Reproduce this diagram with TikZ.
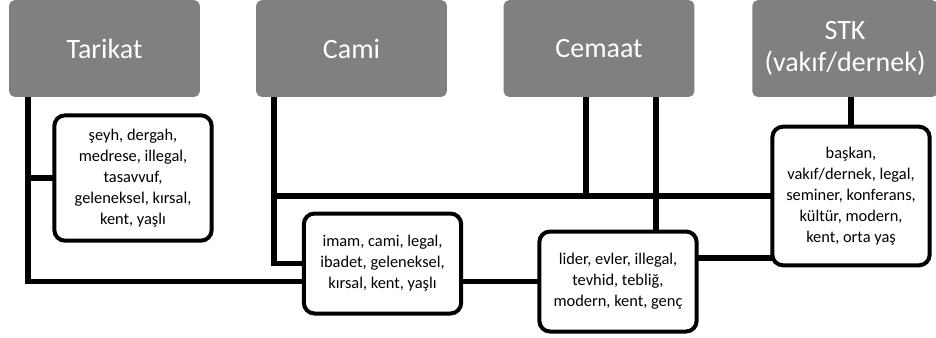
\documentclass[tikz,border=0pt]{standalone}
\usepackage{fontspec}
\setmainfont{Carlito}
\usepackage{xcolor}
\usetikzlibrary{backgrounds}
\definecolor{headgray}{HTML}{808080}
\tikzstyle{link} = [line width=3.8pt,line cap=rect]

\begin{document}
\begin{tikzpicture}
        [
            x=0.75pt,y=-0.75pt,
            head/.style={rectangle,rounded corners=4pt,fill=headgray,text=white,
                minimum width=143pt,minimum height=72.5pt,align=center,
                font=\fontsize{21}{24}\selectfont},
            info/.style={rectangle,rounded corners=8pt,draw=black,line width=3pt,fill=white,
                minimum width=118pt,align=center,inner sep=1pt,
                font=\fontsize{12.3}{15.8}\selectfont},
        ]
    \useasboundingbox (0,0) rectangle (936,337);

    % grey headers
    \node[head] (tarikat) at (104.5,48.5){Tarikat};
    \node[head] (cami) at (351.5,48.5){Cami};
    \node[head] (cemaat) at (599,48.5){Cemaat};
    \node[head,minimum width=139pt] (stk) at (845,48.5){STK\\(vakıf/dernek)};

    % boxes
    \node[info,minimum height=94pt] (seyh) at (133,178){şeyh, dergah,\\medrese, illegal,\\tasavvuf,\\geleneksel, kırsal,\\kent, yaşlı};
    \node[info,minimum height=75pt] (imam) at (382.5,263.5){imam, cami, legal,\\ibadet, geleneksel,\\kırsal, kent, yaşlı};
    \node[info,minimum height=75pt] (lider) at (618,281.5){lider, evler, illegal,\\tevhid, tebliğ,\\modern, kent, genç};
    \node[info,minimum height=104pt] (stkbox) at (851,196){başkan,\\vakıf/dernek, legal,\\seminer, konferans,\\kültür, modern,\\kent, orta yaş};

    % connectors
    \coordinate (t1) at (28,97);
    \coordinate (c1) at (274,97);
    \coordinate (m1) at (586,97);
    \coordinate (m2) at (656,97);
    \coordinate (l1) at (698,258);
    \begin{pgfonlayer}{background}
    \draw[link] (t1) |- (lider.west);
    \draw[link] (t1 |- seyh.west) -- (seyh.west);
    \draw[link] (c1) |- (imam.west);
    \draw[link] (c1 |- stkbox.west) -- (stkbox.west);
    \draw[link] (m1) -- (m1 |- stkbox.west);
    \draw[link] (m2) -- (m2 |- lider.north);
    \draw[link] (stkbox.north |- stk.south) -- (stkbox.north);
    \draw[link] (l1) -- (l1 -| stkbox.west);
    \end{pgfonlayer}
\end{tikzpicture}
\end{document}
